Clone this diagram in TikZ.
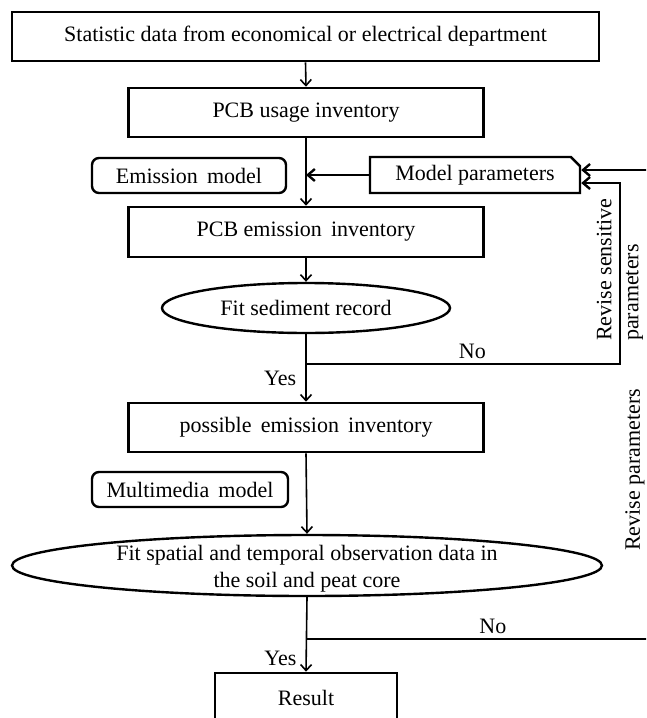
\documentclass[tikz,border=0pt]{standalone}
\usepackage{fontspec}
\setmainfont{Liberation Serif}
\usetikzlibrary{arrows.meta,shapes.geometric,shapes.misc}

\begin{document}
\begin{tikzpicture}[x=1pt,y=-1pt,
  font=\fontsize{22}{27}\selectfont,
  scatola/.style={draw,line width=2.6pt,minimum height=49pt,inner sep=0pt},
  modello/.style={draw,line width=2.4pt,rounded corners=7pt,minimum height=35pt,inner sep=0pt},
  verifica/.style={draw,ellipse,line width=2.4pt,inner sep=0pt,align=center},
  freccia/.style={line width=1.6pt,-{Straight Barb[length=6pt,width=11pt]}},
  ritorno/.style={line width=2.4pt,-{Straight Barb[length=7pt,width=12pt]}},
  etichetta/.style={inner sep=0pt}]
  \useasboundingbox (0,0) rectangle (646,718);
  \clip (0,0) rectangle (646,718);
  % Catena principale: tutti i blocchi sull'asse x=306.
  \node[scatola,minimum width=587pt] (dati) at (305.5,36.5)
    {Statistic data from economical or electrical department};
  \node[scatola,minimum width=355pt] (uso) at (306,112.5) {PCB usage inventory};
  \node[scatola,minimum width=355pt,minimum height=50pt] (emissione) at (306,232)
    {PCB emission\, inventory};
  \node[verifica,minimum width=288pt,minimum height=50pt] (sedimento) at (306,308)
    {Fit sediment record};
  \node[scatola,minimum width=355pt] (possibile) at (306,427.5)
    {possible\, emission\, inventory};
  \node[verifica,minimum width=590pt,minimum height=61pt] (osservazioni) at (307,565.5) {};
  \node[etichetta,align=center] (testoOss) at (307,568.5)
    {Fit spatial and temporal observation data in\\the soil and peat core};
  \node[scatola,minimum width=182pt,minimum height=50pt] (risultato) at (306,698) {Result};
  % Modelli e parametri a lato della catena.
  \node[modello,minimum width=194pt] (modEmissione) at (189,175.5) {Emission\, model};
  \node[modello,minimum width=196pt] (modMultimedia) at (190,489.5) {Multimedia\, model};
  \node[draw,line width=2.4pt,chamfered rectangle,chamfered rectangle corners=north east,
    chamfered rectangle xsep=6pt,minimum width=210pt,minimum height=36pt,inner sep=0pt]
    (parametri) at (475,175) {Model parameters};
  % Frecce lungo l'asse.
  \draw[freccia] (dati.south) -- (uso.north);
  \draw[freccia] (uso.south) -- (emissione.north);
  \draw[freccia] (emissione.south) -- (sedimento.north);
  \draw[freccia] (sedimento.south) -- node[pos=0.66,left=9pt,etichetta] (si1) {Yes} (possibile.north);
  \draw[freccia] (possibile.south) -- (osservazioni.north);
  \draw[freccia] (osservazioni.south) -- node[pos=0.82,left=9pt,etichetta] (si2) {Yes} (risultato.north);
  \draw[ritorno] (parametri.west) -- (parametri.west -| uso.south);
  % Rami "No" che tornano ai parametri del modello.
  \coordinate (bivio1) at (306,364);
  \coordinate (gomito1) at (620,364);
  \coordinate (gomito2) at (620,183);
  \draw[ritorno] (bivio1) -- node[pos=0.53,above=4pt,etichetta] (no1) {No} (gomito1)
    -- (gomito2) -- (gomito2 -| parametri.east);
  \coordinate (bivio2) at (306,639);
  \coordinate (gomito3) at (652,639);
  \coordinate (gomito4) at (652,170);
  \draw[ritorno] (bivio2) -- node[pos=0.54,above=4pt,etichetta] (no2) {No} (gomito3)
    -- (gomito4) -- (gomito4 -| parametri.east);
  \node[etichetta,rotate=90,align=left,anchor=west] (sensibili) at (620,341)
    {Revise sensitive\\parameters};
  \node[etichetta,rotate=90] (revisione) at (635,470) {Revise parameters};
\end{tikzpicture}
\end{document}
